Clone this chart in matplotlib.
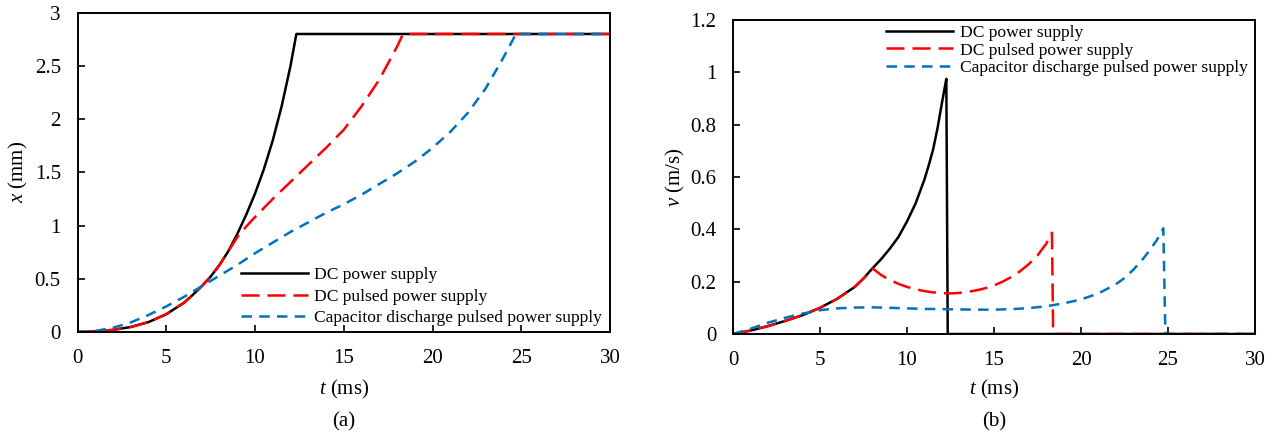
import matplotlib
matplotlib.use('Agg')
import matplotlib.pyplot as plt

# ---- (a) displacement x (mm) vs t (ms) ----
t_dc_x = [0, 1, 2, 3, 4, 5, 6, 6.5, 7, 7.5, 8, 8.5, 9, 9.5, 10, 10.5, 11, 11.5,
          12, 12.33, 30]
x_dc = [0, 0.005, 0.02, 0.047, 0.093, 0.167, 0.275, 0.35, 0.43, 0.52, 0.63, 0.76,
        0.92, 1.1, 1.3, 1.53, 1.8, 2.12, 2.5, 2.8, 2.8]

t_pulse_x = [0, 1, 2, 3, 4, 5, 6, 6.5, 7, 7.5, 8, 8.5, 9, 9.5, 10, 11, 12, 13, 14,
             15, 16, 17, 18, 18.34, 30]
x_pulse = [0, 0.005, 0.02, 0.047, 0.093, 0.167, 0.275, 0.35, 0.43, 0.52, 0.63, 0.76,
           0.89, 0.99, 1.08, 1.25, 1.41, 1.57, 1.73, 1.9, 2.12, 2.37, 2.68, 2.8, 2.8]

t_cap_x = [0, 1, 2, 3, 4, 5, 6, 7, 8, 9, 10, 11, 12, 13, 14, 15, 16, 17, 18, 19,
           20, 21, 22, 23, 24, 24.7, 30]
x_cap = [0, 0.01, 0.04, 0.09, 0.16, 0.24, 0.33, 0.43, 0.53, 0.63, 0.74, 0.84, 0.94,
         1.03, 1.12, 1.2, 1.29, 1.39, 1.49, 1.6, 1.73, 1.88, 2.06, 2.29, 2.58, 2.8, 2.8]

# ---- (b) velocity v (m/s) vs t (ms) ----
t_dc_v = [0, 1, 2, 3, 4, 5, 6, 7, 7.5, 8, 8.5, 9, 9.5, 10, 10.5, 11, 11.25, 11.5,
          11.75, 12.0, 12.15, 12.26, 12.34, 30]
v_dc = [0, 0.013, 0.03, 0.05, 0.072, 0.1, 0.135, 0.18, 0.212, 0.25, 0.285, 0.325,
        0.37, 0.43, 0.5, 0.59, 0.645, 0.705, 0.785, 0.88, 0.935, 0.975, 0, 0]

t_pulse_v = [0, 1, 2, 3, 4, 5, 6, 7, 7.5, 8.04, 8.5, 9, 9.5, 10, 10.5, 11, 11.5,
             12, 12.5, 13, 13.5, 14, 14.5, 15, 15.5, 16, 16.5, 17, 17.5, 18, 18.33,
             18.4, 30]
v_pulse = [0, 0.013, 0.03, 0.05, 0.072, 0.1, 0.135, 0.18, 0.212, 0.25, 0.226, 0.207,
           0.192, 0.18, 0.171, 0.164, 0.159, 0.156, 0.155, 0.157, 0.161, 0.167, 0.175,
           0.186, 0.2, 0.218, 0.24, 0.267, 0.3, 0.345, 0.387, 0, 0]

t_cap_v = [0, 1, 2, 3, 4, 5, 6, 7, 8, 9, 10, 11, 12, 13, 14, 15, 16, 17, 18, 19, 20,
           21, 22, 22.5, 23, 23.6, 24, 24.35, 24.73, 24.85, 30]
v_cap = [0, 0.02, 0.043, 0.062, 0.078, 0.091, 0.098, 0.101, 0.102, 0.1, 0.098,
         0.096, 0.095, 0.094, 0.093, 0.093, 0.095, 0.099, 0.106, 0.117, 0.132, 0.155,
         0.19, 0.214, 0.245, 0.29, 0.325, 0.358, 0.404, 0, 0]

labels = ['DC power supply', 'DC pulsed power supply',
          'Capacitor discharge pulsed power supply']

plt.rcParams['font.family'] = ['Liberation Serif', 'DejaVu Serif']
plt.rcParams['mathtext.fontset'] = 'custom'
plt.rcParams['mathtext.rm'] = 'Liberation Serif'
plt.rcParams['mathtext.it'] = 'Liberation Serif:italic'

BLUE = '#0070C0'
LW = 1.8
FS = 15
LEG_FS = 12.6

fig = plt.figure(figsize=(12.8, 4.37), dpi=100)
ax1 = fig.add_axes([77.5 / 1280, 1 - 332 / 437, 532.5 / 1280, 319.3 / 437])
ax2 = fig.add_axes([733 / 1280, 1 - 334 / 437, 522 / 1280, 314 / 437])


def style(ax):
    ax.set_xlim(0, 30)
    ax.set_xticks(range(0, 31, 5))
    ax.tick_params(direction='in', length=5, width=1.2, labelsize=FS)
    ax.tick_params(axis='x', pad=12)
    ax.tick_params(axis='y', pad=12)
    for s in ax.spines.values():
        s.set_linewidth(1.4)


# panel (a)
ax1.plot(t_dc_x, x_dc, color='black', lw=LW, label=labels[0])
ax1.plot(t_pulse_x, x_pulse, color='red', lw=LW, dashes=(7.2, 3.2), label=labels[1])
ax1.plot(t_cap_x, x_cap, color=BLUE, lw=LW, dashes=(4.2, 2.9), label=labels[2])
style(ax1)
ax1.set_ylim(0, 3)
ax1.set_yticks([0, 0.5, 1, 1.5, 2, 2.5, 3])
ax1.set_yticklabels(['0', '0.5', '1', '1.5', '2', '2.5', '3'])
ax1.set_xlabel(r'$t$ (ms)', fontsize=FS)
ax1.set_ylabel(r'$x$ (mm)', fontsize=FS)
ax1.xaxis.set_label_coords(0.5, (332 - 389) / 319.3)
ax1.xaxis.label.set_verticalalignment('center')
ax1.yaxis.set_label_coords((18 - 77.5) / 532.5, 0.5)
ax1.yaxis.label.set_verticalalignment('center')
ax1.text(0.5, (332 - 422) / 319.3, '(a)', transform=ax1.transAxes,
         ha='center', va='center', fontsize=FS)
ax1.legend(loc='upper left', bbox_to_anchor=(241 / 1280, 1 - 267 / 437),
           bbox_transform=fig.transFigure, frameon=False, fontsize=LEG_FS,
           handlelength=3.8, handletextpad=0.4, labelspacing=0.3,
           borderpad=0, borderaxespad=0)

# panel (b)
ax2.plot(t_dc_v, v_dc, color='black', lw=LW, label=labels[0])
ax2.plot(t_pulse_v, v_pulse, color='red', lw=LW, dashes=(7.2, 3.2), label=labels[1])
ax2.plot(t_cap_v, v_cap, color=BLUE, lw=LW, dashes=(4.2, 2.9), label=labels[2])
style(ax2)
ax2.set_ylim(0, 1.2)
ax2.set_yticks([0, 0.2, 0.4, 0.6, 0.8, 1.0, 1.2])
ax2.set_yticklabels(['0', '0.2', '0.4', '0.6', '0.8', '1', '1.2'])
ax2.set_xlabel(r'$t$ (ms)', fontsize=FS)
ax2.set_ylabel(r'$v$ (m/s)', fontsize=FS)
ax2.xaxis.set_label_coords(0.5, (334 - 389) / 314)
ax2.xaxis.label.set_verticalalignment('center')
ax2.yaxis.set_label_coords((675 - 733) / 522, 0.5)
ax2.yaxis.label.set_verticalalignment('center')
ax2.text(0.5, (334 - 422) / 314, '(b)', transform=ax2.transAxes,
         ha='center', va='center', fontsize=FS)
ax2.legend(loc='upper left', bbox_to_anchor=(886 / 1280, 1 - 25 / 437),
           bbox_transform=fig.transFigure, frameon=False, fontsize=LEG_FS,
           handlelength=3.8, handletextpad=0.4, labelspacing=0.06,
           borderpad=0, borderaxespad=0)

fig.savefig('out.png', dpi=100)
plt.close(fig)
